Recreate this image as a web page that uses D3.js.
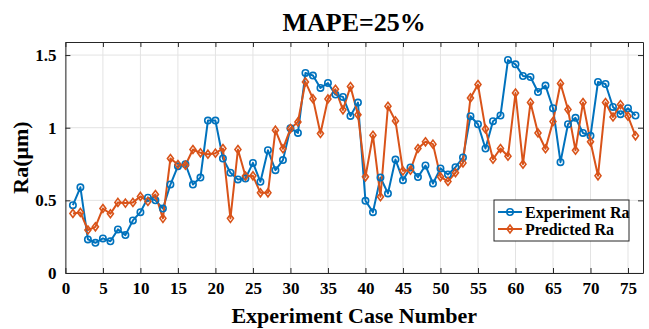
<!DOCTYPE html>
<html><head><meta charset="utf-8">
<script src="https://cdn.jsdelivr.net/npm/d3@7"></script>
<style>body{margin:0;background:#fff}svg{display:block}</style>
</head><body>
<script>
const caseNumbers = d3.range(1, 77);
const experimentRa = [0.467,0.59,0.231,0.208,0.238,0.218,0.30,0.261,0.362,0.419,0.518,0.50,0.444,0.609,0.735,0.749,0.609,0.657,1.049,1.049,0.788,0.69,0.644,0.65,0.758,0.628,0.845,0.708,0.777,0.997,0.964,1.377,1.359,1.274,1.308,1.228,1.212,1.081,1.173,0.497,0.419,0.657,0.548,0.781,0.639,0.726,0.66,0.74,0.616,0.72,0.678,0.728,0.795,1.079,1.024,0.857,1.045,1.084,1.466,1.436,1.356,1.349,1.246,1.29,1.134,0.763,1.024,1.068,0.964,0.944,1.315,1.301,1.143,1.093,1.134,1.084];
const predictedRa = [0.41,0.417,0.296,0.318,0.444,0.408,0.486,0.481,0.486,0.527,0.493,0.54,0.376,0.788,0.747,0.742,0.85,0.827,0.818,0.825,0.857,0.376,0.85,0.667,0.669,0.552,0.552,0.983,0.855,0.994,1.04,1.315,1.20,0.96,1.198,1.265,1.123,1.283,1.09,0.662,0.948,0.525,1.148,1.047,0.703,0.708,0.857,0.903,0.887,0.662,0.63,0.69,0.758,1.205,1.297,0.992,0.783,0.857,0.804,1.239,0.749,1.173,0.964,0.855,1.042,1.304,1.125,0.845,1.173,0.903,0.669,1.173,1.074,1.159,1.079,0.944];
const xTicks = [0,5,10,15,20,25,30,35,40,45,50,55,60,65,70,75];
const yTicks = [0,0.5,1,1.5];
const yTickLabels = ["0","0.5","1","1.5"];
const seriesNames = ["Experiment Ra","Predicted Ra"];
const titleText = "MAPE=25%";
const xLabel = "Experiment Case Number";
const yLabel = "Ra(\u03bcm)";

const FONT = "'Liberation Serif','Times New Roman','DejaVu Serif',serif";
const W=649,H=329;
const m={l:65.4,r:6,t:42,b:56};
const svg=d3.select("body").append("svg").attr("width",W).attr("height",H);
const x=d3.scaleLinear().domain([0,77]).range([m.l,W-m.r]);
const y=d3.scaleLinear().domain([0,1.59]).range([H-m.b,m.t]);

function styleText(sel,size){sel.style("font-family",FONT).style("font-weight","bold").style("font-size",size+"px").attr("fill","#000");}

// grid
const g=svg.append("g");
g.selectAll(".gx").data(xTicks).join("line").attr("x1",d=>x(d)).attr("x2",d=>x(d)).attr("y1",m.t).attr("y2",H-m.b).attr("stroke","#e3e3e3").attr("stroke-width",1);
g.selectAll(".gy").data(yTicks).join("line").attr("y1",d=>y(d)).attr("y2",d=>y(d)).attr("x1",m.l).attr("x2",W-m.r).attr("stroke","#e3e3e3").attr("stroke-width",1);

// axes
const tl=5;
const axB=svg.append("g").attr("transform",`translate(0,${H-m.b})`).call(d3.axisBottom(x).tickValues(xTicks).tickSize(-tl).tickSizeOuter(0).tickPadding(9));
const axT=svg.append("g").attr("transform",`translate(0,${m.t})`).call(d3.axisTop(x).tickValues(xTicks).tickSize(-tl).tickSizeOuter(0).tickFormat(""));
const axL=svg.append("g").attr("transform",`translate(${m.l},0)`).call(d3.axisLeft(y).tickValues(yTicks).tickFormat((d,i)=>yTickLabels[i]).tickSize(-tl).tickSizeOuter(0).tickPadding(9));
const axR=svg.append("g").attr("transform",`translate(${W-m.r},0)`).call(d3.axisRight(y).tickValues(yTicks).tickSize(-tl).tickSizeOuter(0).tickFormat(""));
[axB,axT,axL,axR].forEach(a=>{a.attr("font-family",null);a.selectAll("path.domain").attr("stroke","#262626").attr("stroke-width",1);a.selectAll(".tick line").attr("stroke","#262626");styleText(a.selectAll("text"),17);});

// lines
const colors=["#0072BD","#D95319"];
const data=[experimentRa,predictedRa];
const line=d3.line().x((d,i)=>x(caseNumbers[i])).y(d=>y(d));
data.forEach((s,k)=>{
  svg.append("path").datum(s).attr("d",line).attr("fill","none").attr("stroke",colors[k]).attr("stroke-width",2).attr("stroke-linejoin","round");
});
// markers
const diamond=(r)=>`M0,${-r}L${r*0.75},0L0,${r}L${-r*0.75},0Z`;
svg.append("g").selectAll("circle").data(experimentRa).join("circle").attr("cx",(d,i)=>x(caseNumbers[i])).attr("cy",d=>y(d)).attr("r",3.2).attr("fill","none").attr("stroke",colors[0]).attr("stroke-width",1.6);
svg.append("g").selectAll("path").data(predictedRa).join("path").attr("transform",(d,i)=>`translate(${x(caseNumbers[i])},${y(d)})`).attr("d",diamond(4)).attr("fill","none").attr("stroke",colors[1]).attr("stroke-width",1.6);

// legend
const lg=svg.append("g").attr("transform","translate(494,200)");
lg.append("rect").attr("width",135).attr("height",41).attr("fill","#fff").attr("stroke","#262626").attr("stroke-width",1);
seriesNames.forEach((n,k)=>{
  const yy=12+k*17;
  lg.append("line").attr("x1",4).attr("x2",28).attr("y1",yy).attr("y2",yy).attr("stroke",colors[k]).attr("stroke-width",2);
  if(k===0) lg.append("circle").attr("cx",16).attr("cy",yy).attr("r",3.2).attr("fill","none").attr("stroke",colors[0]).attr("stroke-width",1.6);
  else lg.append("path").attr("transform",`translate(16,${yy})`).attr("d",diamond(4)).attr("fill","none").attr("stroke",colors[1]).attr("stroke-width",1.6);
  styleText(lg.append("text").attr("x",31).attr("y",yy).attr("dy","0.35em").text(n),16);
});

// titles
styleText(svg.append("text").attr("x",(m.l+W-m.r)/2).attr("y",31).attr("text-anchor","middle").text(titleText),26);
styleText(svg.append("text").attr("x",(m.l+W-m.r)/2).attr("y",323).attr("text-anchor","middle").text(xLabel),22);
styleText(svg.append("text").attr("transform",`translate(28,${(m.t+H-m.b)/2}) rotate(-90)`).attr("text-anchor","middle").text(yLabel),22);
</script>
</body></html>
